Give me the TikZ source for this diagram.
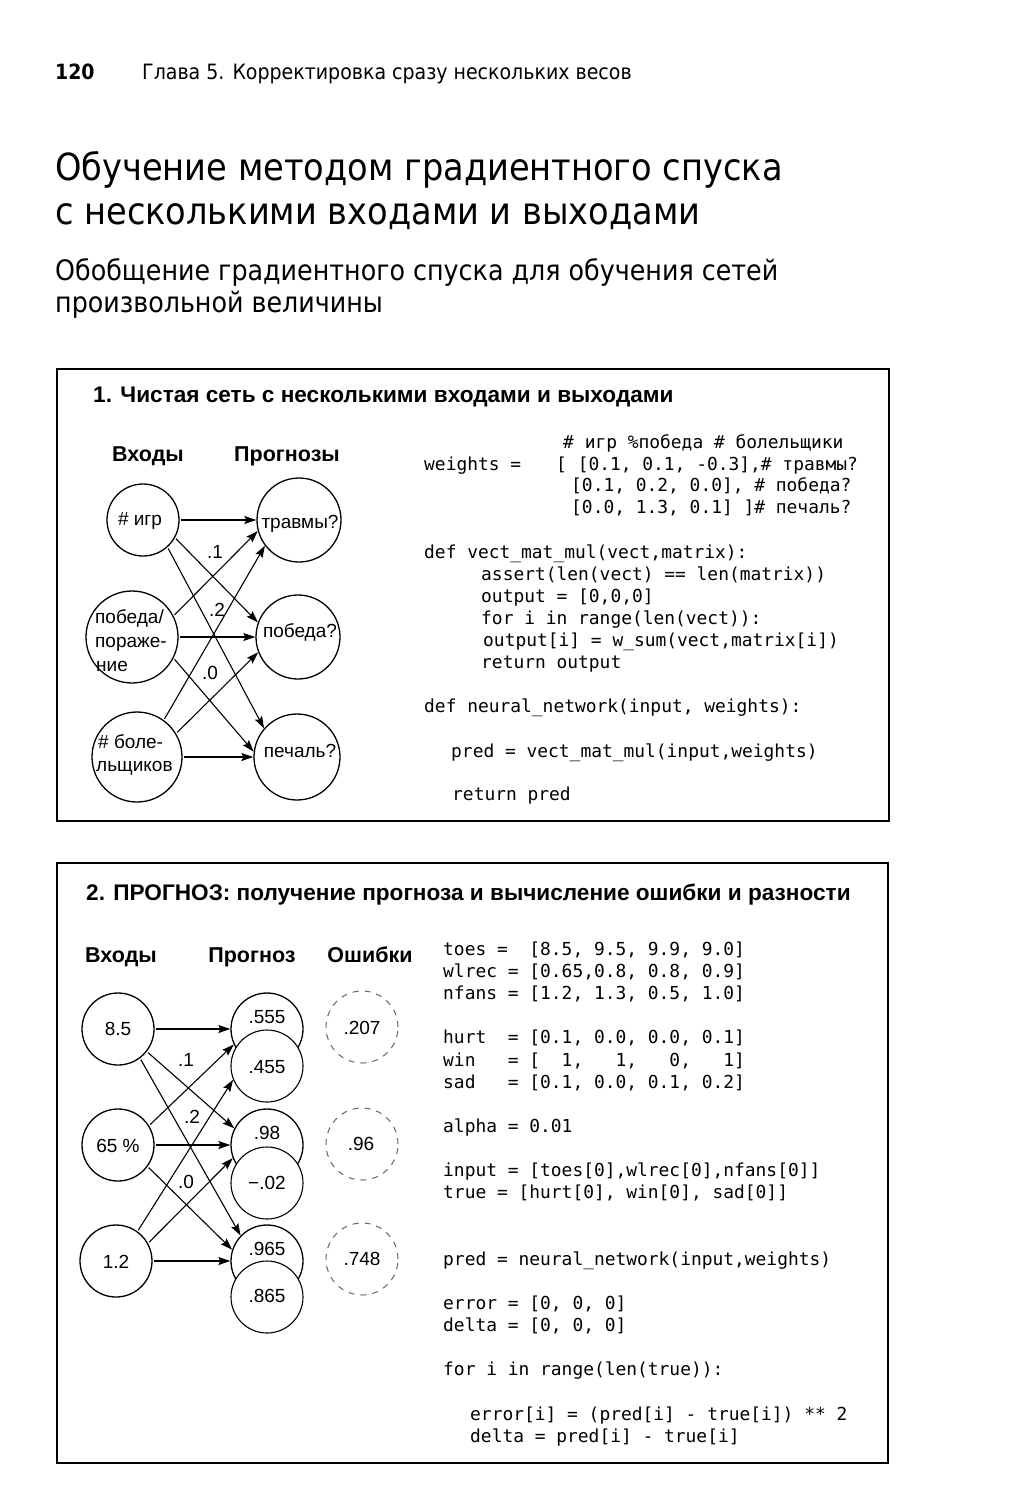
\documentclass[tikz,border=0pt]{standalone}
\usepackage{fontspec}
\setmainfont{Liberation Sans}
\newfontfamily\headfont{DejaVu Sans Condensed}
\newfontfamily\codefont{DejaVu Sans Mono}
\usetikzlibrary{arrows.meta}
\begin{document}
\begin{tikzpicture}[x=1pt,y=-1pt,
  panel/.style={draw, line width=1.4pt},
  neuron/.style={circle, draw, line width=1.3pt, inner sep=0pt},
  lower/.style={circle, draw, fill=white, line width=1.1pt, inner sep=0pt, minimum size=72pt},
  errc/.style={circle, draw=black!60, line width=1pt, dash pattern=on 6pt off 6pt, inner sep=0pt, minimum size=72pt},
  arr/.style={line width=1.1pt, -{Stealth[length=12pt,width=8pt,inset=2pt]}, shorten <=1.5pt},
  ntext/.style={inner sep=0pt, font=\fontsize{19}{22}\selectfont},
  ltext/.style={anchor=base west, inner sep=0pt, font=\fontsize{19}{22}\selectfont},
  wlab/.style={inner sep=0pt, font=\fontsize{19}{22}\selectfont},
  collab/.style={anchor=base, inner sep=0pt, font=\bfseries\fontsize{21.5}{24}\selectfont},
  ptitle/.style={anchor=base west, inner sep=0pt, font=\bfseries\fontsize{22.6}{26}\selectfont},
  code/.style={anchor=base west, inner sep=0pt, font=\codefont\fontsize{17.9}{20}\selectfont},
  hd/.style={anchor=base west, inner sep=0pt}
]
\useasboundingbox (0,0) rectangle (1010,1500);
\fill[white] (0,0) rectangle (1010,1500);

% ---------- page header ----------
\node[hd, font=\headfont\bfseries\fontsize{21}{24}\selectfont] (pgnum) at (55,79) {120};
\node[hd, font=\headfont\fontsize{21.1}{24}\selectfont] (chap) at (142,79) {Глава 5. Корректировка сразу нескольких весов};
\node[hd, font=\headfont\fontsize{37.4}{44}\selectfont] (title1) at (55,180) {Обучение методом градиентного спуска};
\node[hd, font=\headfont\fontsize{37.4}{44}\selectfont] (title2) at (55,224) {с несколькими входами и выходами};
\node[hd, font=\headfont\fontsize{28.2}{32}\selectfont] (sub1) at (55,280) {Обобщение градиентного спуска для обучения сетей};
\node[hd, font=\headfont\fontsize{28.2}{32}\selectfont] (sub2) at (55,312) {произвольной величины};

% ---------- panel 1 ----------
\draw[panel] (57,369) rectangle (889,821);
\node[ptitle] (p1title) at (93,402) {1. Чистая сеть с несколькими входами и выходами};
\node[collab] (in1lab) at (148,461) {Входы};
\node[collab] (pr1lab) at (287,461) {Прогнозы};

\node[neuron, minimum size=72pt] (i1) at (143,520) {};
\node[neuron, minimum size=92pt] (i2) at (132,637) {};
\node[neuron, minimum size=90pt] (i3) at (137,757) {};
\node[neuron, minimum size=84pt] (o1) at (299,520) {};
\node[neuron, minimum size=84pt] (o2) at (298,637) {};
\node[neuron, minimum size=86pt] (o3) at (297,757) {};

\node[ntext] (ti1) at (140,521) {\# игр};
\node[ltext] (ti2a) at (95,623) {победа/};
\node[ltext] (ti2b) at (95,647) {пораже-};
\node[ltext] (ti2c) at (96,671) {ние};
\node[ltext] (ti3a) at (98,748) {\# боле-};
\node[ltext] (ti3b) at (96,771) {льщиков};
\node[ntext] (to1) at (300,524) {травмы?};
\node[ntext] (to2) at (300,632) {победа?};
\node[ntext] (to3) at (300,751) {печаль?};

\draw[arr] (i1) -- (o1);
\draw[arr] (i1.-29) -- (o2.160);
\draw[arr] (i1.-48) -- (o3.139);
\draw[arr] (i2.27) -- (o1.195);
\draw[arr] (i2) -- (o2);
\draw[arr] (i2.-27) -- (o3.173);
\draw[arr] (i3.54) -- (o1.217);
\draw[arr] (i3.31) -- (o2.201);
\draw[arr] (i3) -- (o3);

\node[wlab] (w11) at (215,552) {.1};
\node[wlab] (w12) at (217,610) {.2};
\node[wlab] (w13) at (210,673) {.0};

\node[code] (c1a) at (563,448) {\#~игр~\%победа~\#~болельщики};
\node[code] (c1b) at (424,470) {weights~=};
\node[code] (c1c) at (556,470) {[~[0.1,~0.1,~-0.3],\#~травмы?};
\node[code] (c1d) at (571,491) {[0.1,~0.2,~0.0],~\#~победа?};
\node[code] (c1e) at (571,513) {[0.0,~1.3,~0.1]~]\#~печаль?};
\node[code] (c1f) at (424,558) {def~vect\_mat\_mul(vect,matrix):};
\node[code] (c1g) at (481,580) {assert(len(vect)~==~len(matrix))};
\node[code] (c1h) at (481,602) {output~=~[0,0,0]};
\node[code] (c1i) at (481,624) {for~i~in~range(len(vect)):};
\node[code] (c1j) at (483,646) {output[i]~=~w\_sum(vect,matrix[i])};
\node[code] (c1k) at (481,668) {return~output};
\node[code] (c1l) at (424,712) {def~neural\_network(input,~weights):};
\node[code] (c1m) at (451,757) {pred~=~vect\_mat\_mul(input,weights)};
\node[code] (c1n) at (452,800) {return~pred};

% ---------- panel 2 ----------
\draw[panel] (57,863) rectangle (888,1463);
\node[ptitle] (p2title) at (86,900) {2. ПРОГНОЗ: получение прогноза и вычисление ошибки и разности};
\node[collab] (in2lab) at (121,962) {Входы};
\node[collab] (pr2lab) at (252,962) {Прогноз};
\node[collab] (er2lab) at (370,962) {Ошибки};

\node[neuron, minimum size=72pt] (a1) at (118,1029) {};
\node[neuron, minimum size=72pt] (a2) at (118,1145) {};
\node[neuron, minimum size=72pt] (a3) at (116,1261) {};

\node[neuron, minimum size=72pt] (p1) at (267,1029) {};
\node[lower] (p1b) at (267,1066) {};
\node[neuron, minimum size=72pt] (p2) at (267,1145) {};
\node[lower] (p2b) at (267,1183) {};
\node[neuron, minimum size=72pt] (p3) at (267,1261) {};
\node[lower] (p3b) at (267,1297) {};

\node[errc] (e1) at (362,1027) {};
\node[errc] (e2) at (362,1144) {};
\node[errc] (e3) at (362,1259) {};

\node[ntext] (ta1) at (118,1029) {8.5};
\node[ntext] (ta2) at (118,1146) {65 \%};
\node[ntext] (ta3) at (116,1262) {1.2};
\node[ntext] (tp1) at (267,1017) {.555};
\node[ntext] (tp1b) at (267,1067) {.455};
\node[ntext] (tp2) at (267,1133) {.98};
\node[ntext] (tp2b) at (267,1183) {−.02};
\node[ntext] (tp3) at (267,1249) {.965};
\node[ntext] (tp3b) at (267,1296) {.865};
\node[ntext] (te1) at (362,1028) {.207};
\node[ntext] (te2) at (361,1144) {.96};
\node[ntext] (te3) at (362,1259) {.748};

\draw[arr] (a1) -- (p1);
\draw[arr] (a1.-38) -- (p2.153);
\draw[arr] (a1.-53) -- (p3.136);
\draw[arr] (a2.32) -- (p1.205);
\draw[arr] (a2) -- (p2);
\draw[arr] (a2.-36) -- (p3.162);
\draw[arr] (a3.54) -- (p1b.202);
\draw[arr] (a3.29) -- (p2.201);
\draw[arr] (a3) -- (p3);

\node[wlab] (w21) at (186,1060) {.1};
\node[wlab] (w22) at (192,1117) {.2};
\node[wlab] (w23) at (186,1182) {.0};

\node[code] (c2a) at (443,955) {toes~=~~[8.5,~9.5,~9.9,~9.0]};
\node[code] (c2b) at (443,977) {wlrec~=~[0.65,0.8,~0.8,~0.9]};
\node[code] (c2c) at (443,999) {nfans~=~[1.2,~1.3,~0.5,~1.0]};
\node[code] (c2d) at (443,1043.5) {hurt~~=~[0.1,~0.0,~0.0,~0.1]};
\node[code] (c2e) at (443,1066) {win~~~=~[~~1,~~~1,~~~0,~~~1]};
\node[code] (c2f) at (443,1088) {sad~~~=~[0.1,~0.0,~0.1,~0.2]};
\node[code] (c2g) at (443,1132) {alpha~=~0.01};
\node[code] (c2h) at (443,1176) {input~=~[toes[0],wlrec[0],nfans[0]]};
\node[code] (c2i) at (443,1198) {true~=~[hurt[0],~win[0],~sad[0]]};
\node[code] (c2j) at (443,1265) {pred~=~neural\_network(input,weights)};
\node[code] (c2k) at (443,1309) {error~=~[0,~0,~0]};
\node[code] (c2l) at (443,1331) {delta~=~[0,~0,~0]};
\node[code] (c2m) at (443,1375.5) {for~i~in~range(len(true)):};
\node[code] (c2n) at (470,1420) {error[i]~=~(pred[i]~-~true[i])~**~2};
\node[code] (c2o) at (470,1442) {delta~=~pred[i]~-~true[i]};
\end{tikzpicture}
\end{document}
